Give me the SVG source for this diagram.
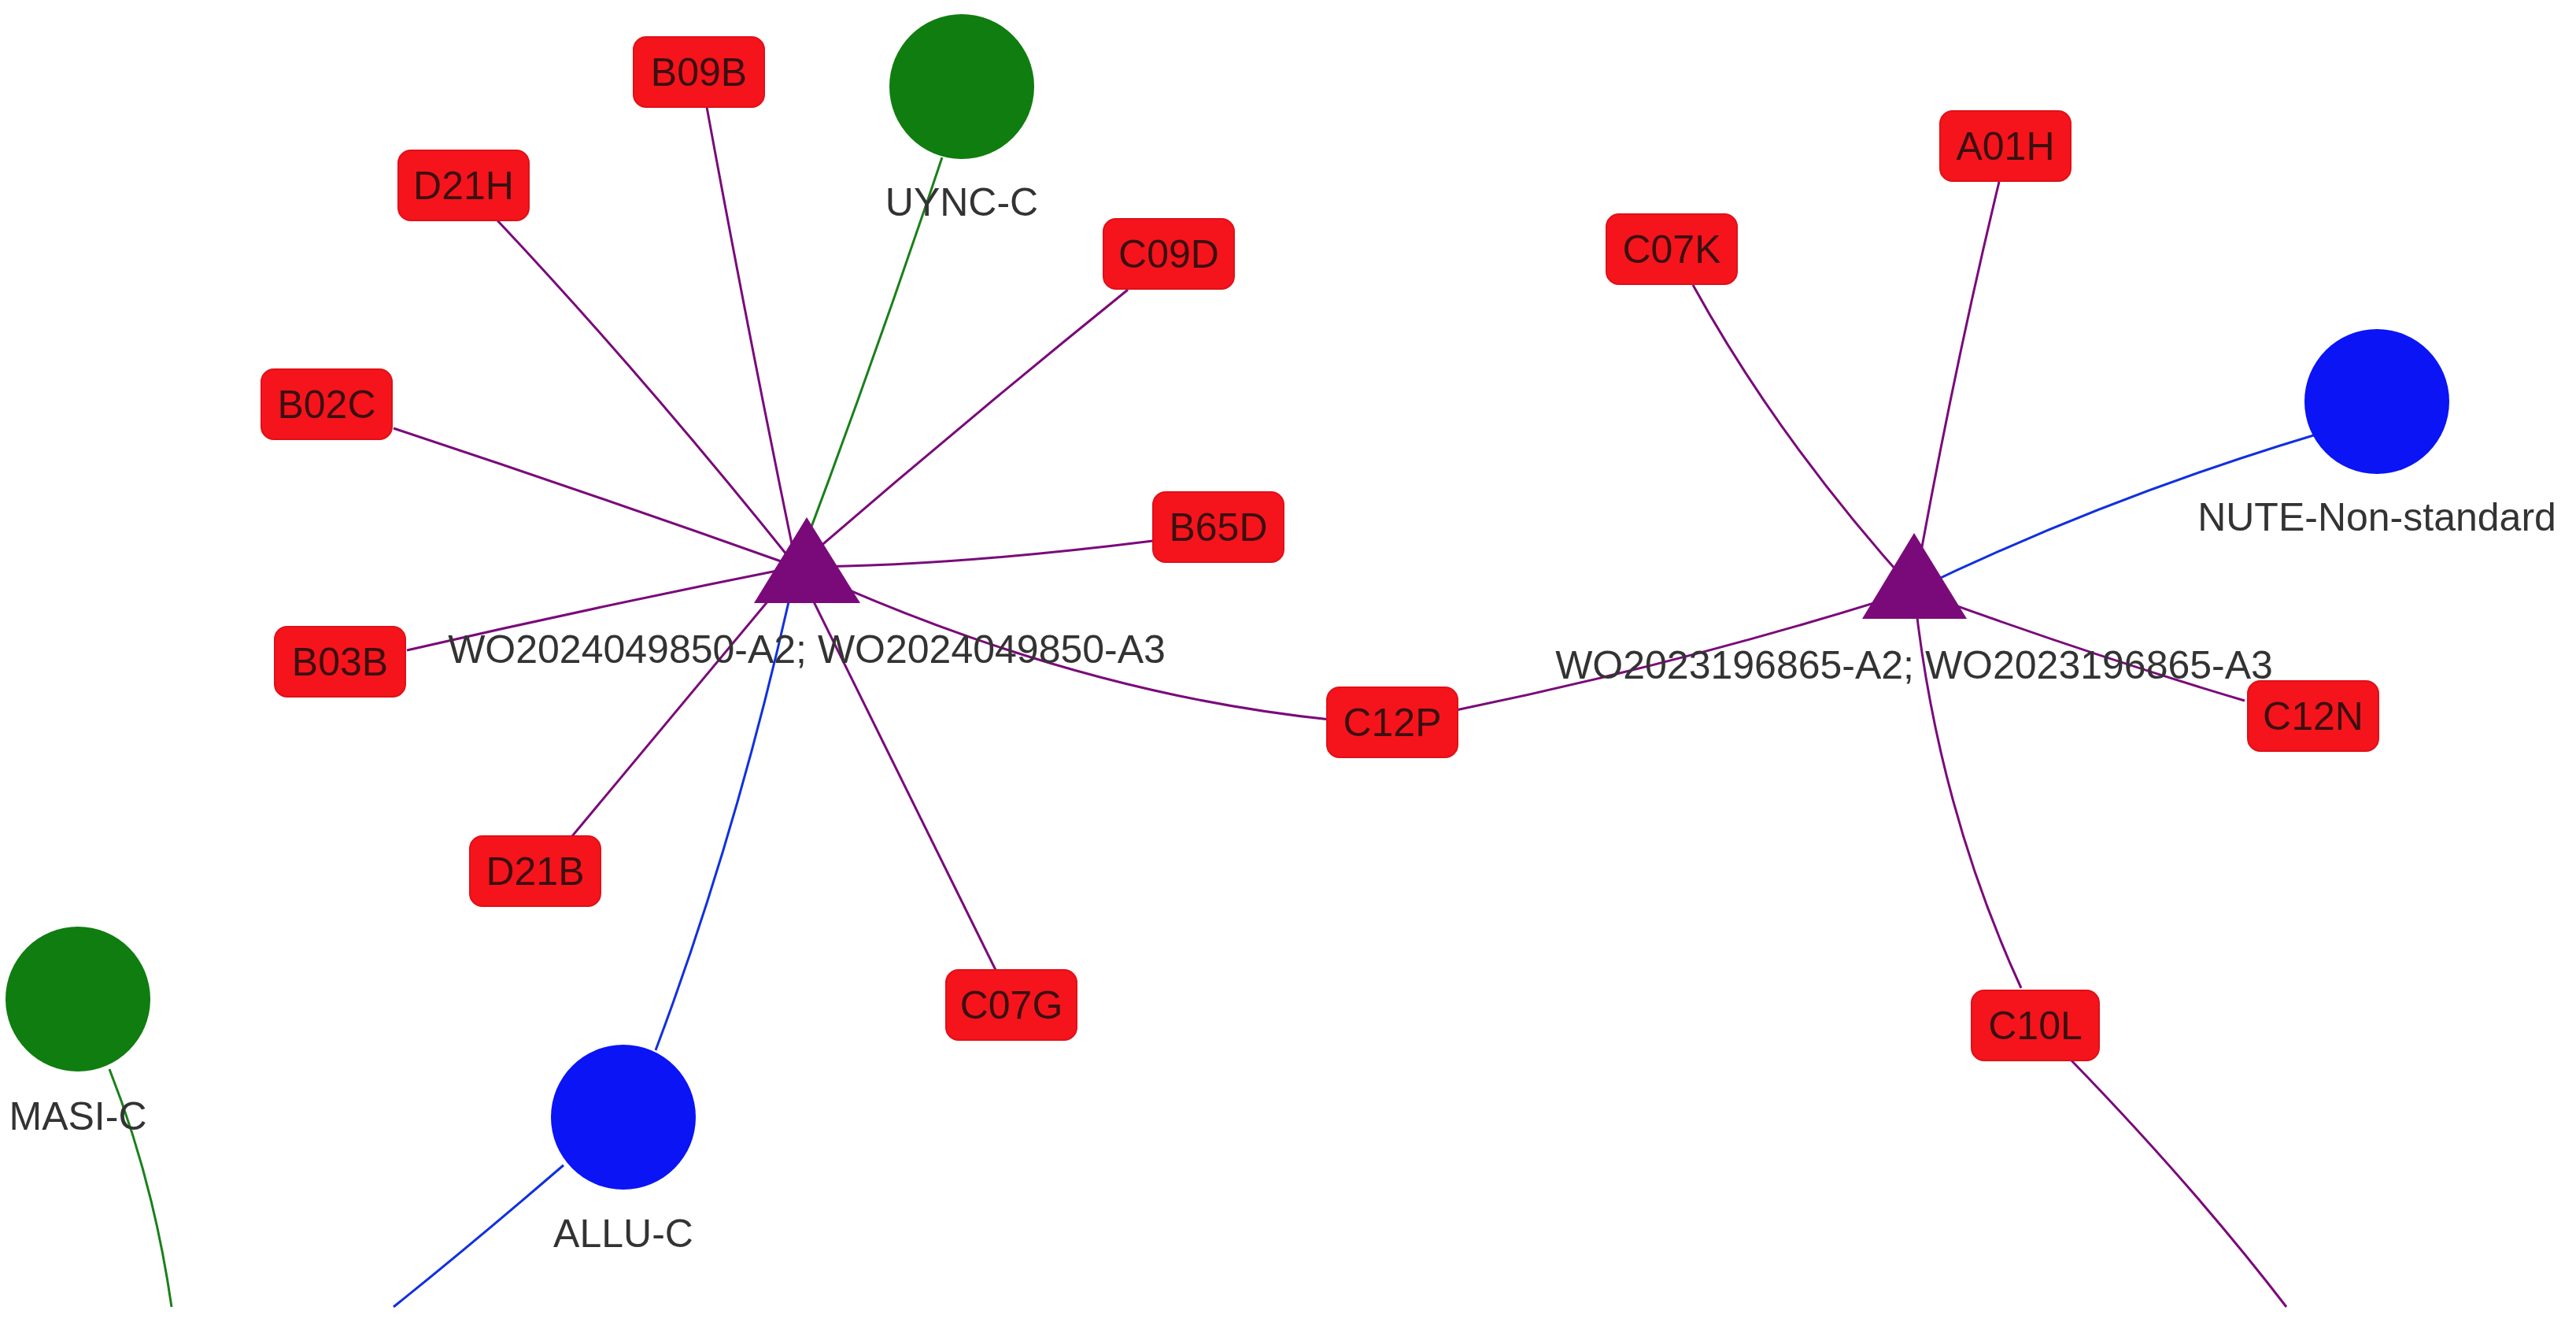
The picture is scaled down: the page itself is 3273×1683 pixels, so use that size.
<svg xmlns="http://www.w3.org/2000/svg" width="3273" height="1683" viewBox="0 0 3273 1683">
<style>
.b{fill:#f5141c;stroke:#e01018;stroke-width:2}
.t{font-family:"Liberation Sans",Arial,sans-serif;font-size:50px;fill:#333;text-anchor:middle}
.bt{font-family:"Liberation Sans",Arial,sans-serif;font-size:50px;fill:#3a1010;text-anchor:middle}
.p{fill:none;stroke:#7a0a7a;stroke-width:3}
.g{fill:none;stroke:#1a801a;stroke-width:3}
.u{fill:none;stroke:#1030e0;stroke-width:3}
</style>
<rect width="3273" height="1683" fill="#fff"/>
<g id="edges">
<path class="p" d="M898,136 Q950,420 1012,720"/>
<path class="p" d="M632,280 Q820,480 1012,720"/>
<path class="p" d="M500,544 Q760,630 1012,720"/>
<path class="p" d="M517,826 Q760,770 1012,720"/>
<path class="p" d="M727,1062 Q870,890 1012,720"/>
<path class="p" d="M1265,1232 Q1140,980 1012,720"/>
<path class="p" d="M1465,687 Q1200,720 1012,720"/>
<path class="p" d="M1433,368 Q1220,540 1012,720"/>
<path class="g" d="M1197,200 Q1110,460 1012,720"/>
<path class="u" d="M833,1334 Q940,1050 1012,720"/>
<path class="p" d="M1012,720 Q1360,880 1690,914"/>
<path class="p" d="M1850,902 Q2150,840 2432,750"/>
<path class="p" d="M2151,362 Q2260,560 2432,750"/>
<path class="p" d="M2540,231 Q2480,480 2432,750"/>
<path class="u" d="M3001,535 Q2700,620 2432,750"/>
<path class="p" d="M2852,890 Q2650,830 2432,750"/>
<path class="p" d="M2568,1255 Q2460,1020 2432,750"/>
<path class="p" d="M2630,1345 Q2790,1510 2905,1660"/>
<path class="g" d="M139,1358 Q195,1500 218,1660"/>
<path class="u" d="M716,1480 Q600,1580 500,1660"/>
</g>
<g id="WO2024049850"><polygon points="1025,657 958,766 1093,766" fill="#7a0a7a"/><text class="t" x="1025" y="842">WO2024049850-A2;  WO2024049850-A3</text></g>
<g id="WO2023196865"><polygon points="2432,677 2366,786 2499,786" fill="#7a0a7a"/><text class="t" x="2432" y="862">WO2023196865-A2;  WO2023196865-A3</text></g>
<g id="B09B"><rect class="b" x="805" y="47" width="166" height="89" rx="16"/><text class="bt" x="888" y="109">B09B</text></g>
<g id="D21H"><rect class="b" x="506" y="191" width="166" height="89" rx="16"/><text class="bt" x="589" y="253">D21H</text></g>
<g id="B02C"><rect class="b" x="332" y="469" width="166" height="89" rx="16"/><text class="bt" x="415" y="531">B02C</text></g>
<g id="B03B"><rect class="b" x="349" y="796" width="166" height="89" rx="16"/><text class="bt" x="432" y="858">B03B</text></g>
<g id="D21B"><rect class="b" x="597" y="1062" width="166" height="89" rx="16"/><text class="bt" x="680" y="1124">D21B</text></g>
<g id="C07G"><rect class="b" x="1202" y="1232" width="166" height="89" rx="16"/><text class="bt" x="1285" y="1294">C07G</text></g>
<g id="B65D"><rect class="b" x="1465" y="625" width="166" height="89" rx="16"/><text class="bt" x="1548" y="687">B65D</text></g>
<g id="C09D"><rect class="b" x="1402" y="278" width="166" height="89" rx="16"/><text class="bt" x="1485" y="340">C09D</text></g>
<g id="C12P"><rect class="b" x="1686" y="873" width="166" height="89" rx="16"/><text class="bt" x="1769" y="935">C12P</text></g>
<g id="A01H"><rect class="b" x="2465" y="141" width="166" height="89" rx="16"/><text class="bt" x="2548" y="203">A01H</text></g>
<g id="C07K"><rect class="b" x="2041" y="272" width="166" height="89" rx="16"/><text class="bt" x="2124" y="334">C07K</text></g>
<g id="C12N"><rect class="b" x="2856" y="865" width="166" height="89" rx="16"/><text class="bt" x="2939" y="927">C12N</text></g>
<g id="C10L"><rect class="b" x="2505" y="1258" width="162" height="89" rx="16"/><text class="bt" x="2586" y="1320">C10L</text></g>
<g id="UYNC-C"><circle cx="1222" cy="110" r="92" fill="#0f7d0f"/><text class="t" x="1222" y="274">UYNC-C</text></g>
<g id="MASI-C"><circle cx="99" cy="1269" r="92" fill="#0f7d0f"/><text class="t" x="99" y="1435">MASI-C</text></g>
<g id="ALLU-C"><circle cx="792" cy="1419" r="92" fill="#0a14f5"/><text class="t" x="792" y="1584">ALLU-C</text></g>
<g id="NUTE"><circle cx="3020" cy="510" r="92" fill="#0a14f5"/><text class="t" x="3020" y="674">NUTE-Non-standard</text></g>
</svg>
